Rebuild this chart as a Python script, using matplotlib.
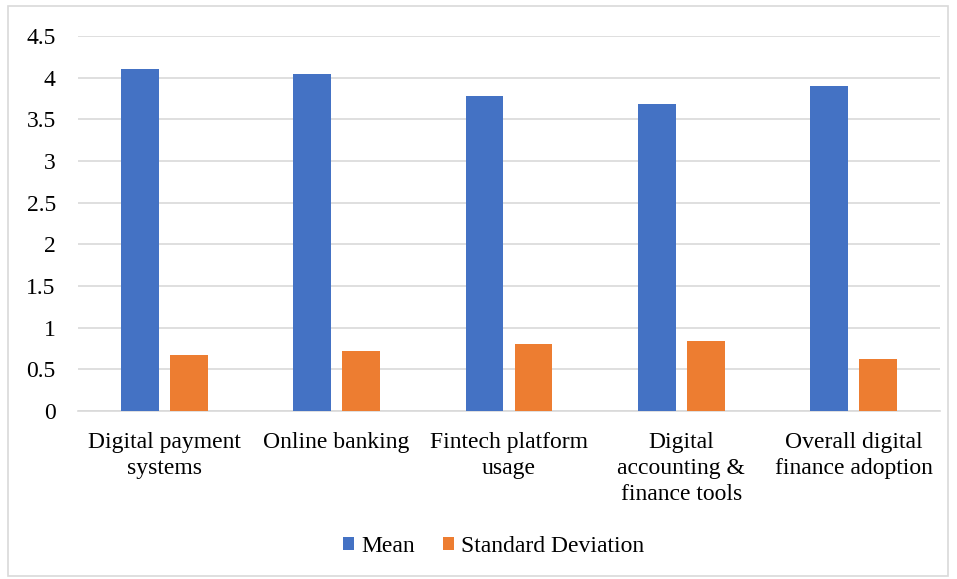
import matplotlib.pyplot as plt
import numpy as np
from matplotlib.patches import Rectangle

categories = ['Digital payment\nsystems', 'Online banking', 'Fintech platform\nusage',
              'Digital\naccounting &\nfinance tools', 'Overall digital\nfinance adoption']
mean_values = [4.11, 4.05, 3.78, 3.69, 3.90]
sd_values = [0.67, 0.72, 0.80, 0.84, 0.63]
y_ticks = [0, 0.5, 1, 1.5, 2, 2.5, 3, 3.5, 4, 4.5]
y_tick_labels = ['0', '0.5', '1', '1.5', '2', '2.5', '3', '3.5', '4', '4.5']

plt.rcParams['font.family'] = ['Liberation Serif', 'DejaVu Serif']

W, H = 957, 579
fig = plt.figure(figsize=(W / 100, H / 100), dpi=100)
ax = fig.add_axes([78 / W, 1 - 411 / H, (940 - 78) / W, (411 - 36) / H])

x = np.arange(len(categories))
width = 0.22
offset = 0.142
ax.bar(x - offset, mean_values, width, color='#4472C4', label='Mean', zorder=3)
ax.bar(x + offset, sd_values, width, color='#ED7D31', label='Standard Deviation', zorder=3)

ax.set_xlim(-0.5, len(categories) - 0.5)
ax.set_ylim(0, 4.5)
ax.set_yticks(y_ticks)
ax.set_yticklabels(y_tick_labels, fontsize=17)
ax.set_xticks(x)
ax.set_xticklabels(categories, fontsize=17, linespacing=1.32)
ax.tick_params(axis='x', length=0, pad=15)
ax.tick_params(axis='y', length=0, pad=16)
ax.grid(axis='y', color='#D9D9D9', linewidth=1.2, zorder=0)
for side in ['top', 'right', 'left']:
    ax.spines[side].set_visible(False)
ax.spines['bottom'].set_color('#D9D9D9')
ax.spines['bottom'].set_linewidth(1.2)

ax.legend(loc='center', bbox_to_anchor=(493.5 / W, 1 - 546 / H), bbox_transform=fig.transFigure,
          ncol=2, frameon=False, fontsize=17, handlelength=0.47, handleheight=0.47,
          handletextpad=0.3, columnspacing=1.2)

fig.patches.append(Rectangle((8 / W, 1 - 576 / H), 940 / W, 570 / H, transform=fig.transFigure,
                             fill=False, edgecolor='#D9D9D9', linewidth=1.2))

plt.savefig('out.png', dpi=100)
